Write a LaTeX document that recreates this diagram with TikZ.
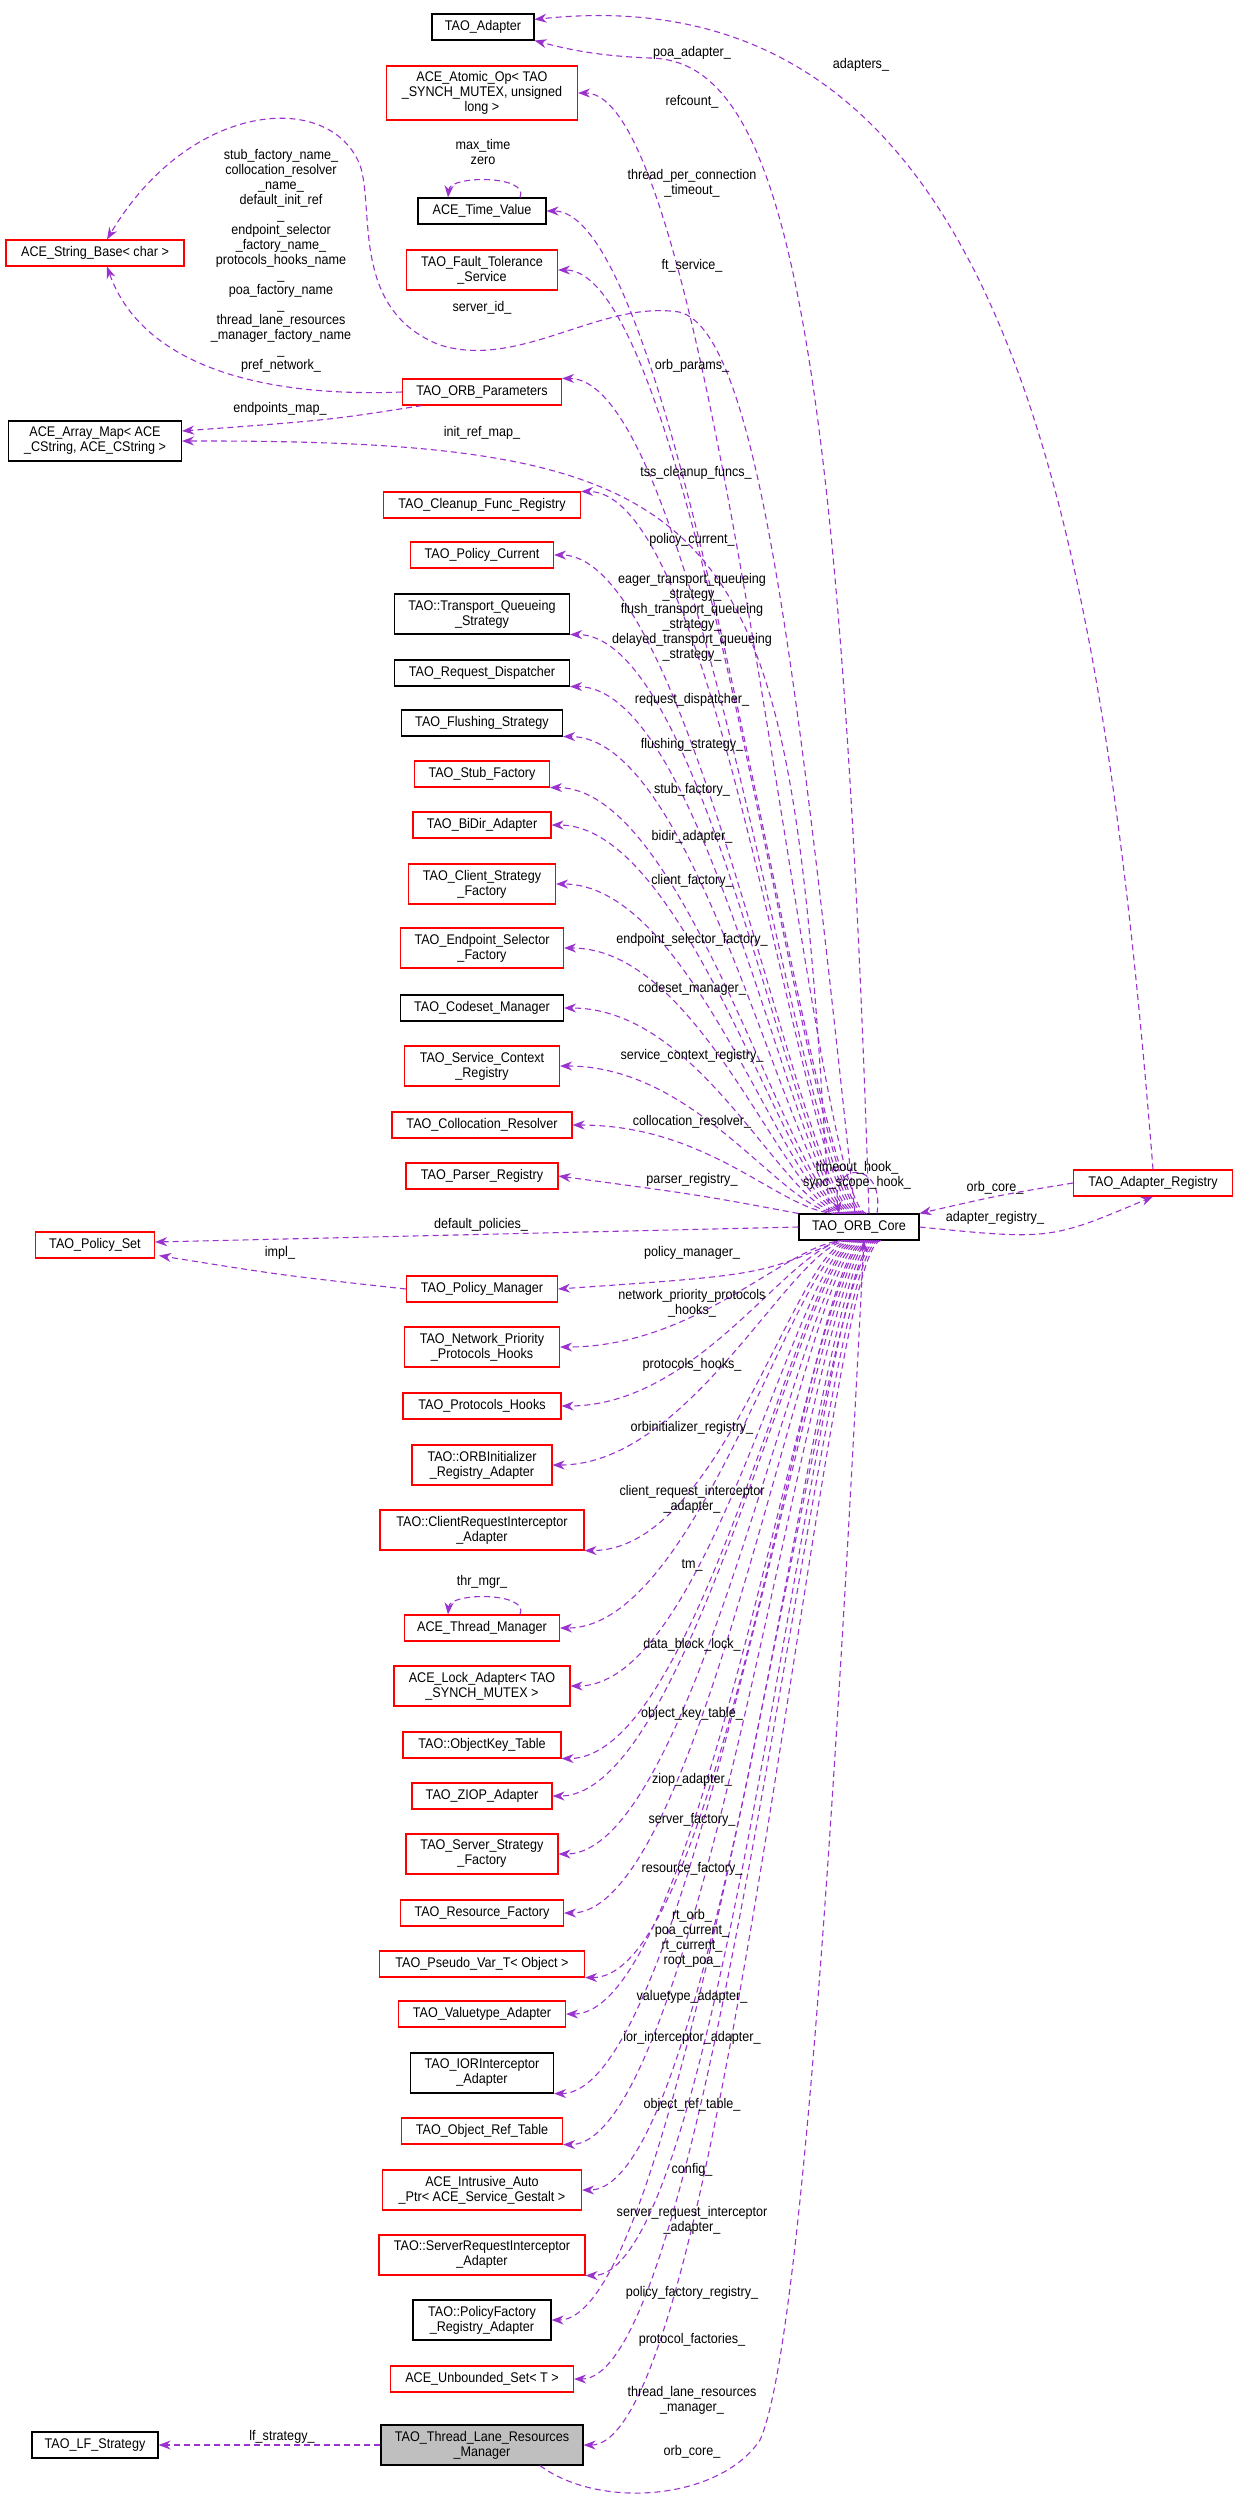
\documentclass[tikz,border=0pt]{standalone}
\usepackage{fontspec}
\setmainfont{Liberation Sans}[FakeStretch=0.9]
\usetikzlibrary{calc,arrows.meta}
\newcommand\lbl{\fontsize{14}{15}\selectfont}
\definecolor{edgec}{HTML}{9A32CD}
\begin{document}
\begin{tikzpicture}[x=1pt,y=-1pt,
 box/.style={draw, fill=white, line width=1.1pt, minimum height=26pt, inner sep=2pt, align=center, font=\lbl},
 rbox/.style={box, draw=red},
 bbox/.style={box, draw=black},
 gbox/.style={box, draw=black, fill=black!25},
 e/.style={draw=edgec, line width=1.1pt, dash pattern=on 6pt off 4pt, -{Stealth[length=12pt,width=9pt]}, shorten >=0pt},
 lab/.style={font=\lbl, align=center, inner sep=0pt}]
\useasboundingbox (0,0) rectangle (1232,2501);
% nodes
\node[bbox, minimum width=102] (adapter) at (483,27) {TAO\_Adapter};
\node[rbox, minimum width=191, minimum height=54] (atomic) at (482,93) {ACE\_Atomic\_Op< TAO\\\_SYNCH\_MUTEX, unsigned\\long >};
\node[bbox, minimum width=128] (timev) at (482,211) {ACE\_Time\_Value};
\node[rbox, minimum width=151, minimum height=40] (ft) at (482,270) {TAO\_Fault\_Tolerance\\\_Service};
\node[rbox, minimum width=178] (sb) at (95,253) {ACE\_String\_Base< char >};
\node[rbox, minimum width=159] (params) at (482,392) {TAO\_ORB\_Parameters};
\node[bbox, minimum width=173, minimum height=40] (amap) at (95,441) {ACE\_Array\_Map< ACE\\\_CString, ACE\_CString >};
\node[rbox, minimum width=197] (cleanup) at (482,505) {TAO\_Cleanup\_Func\_Registry};
\node[rbox, minimum width=143] (pcur) at (482,555) {TAO\_Policy\_Current};
\node[bbox, minimum width=175, minimum height=40] (tqs) at (482,614) {TAO::Transport\_Queueing\\\_Strategy};
\node[bbox, minimum width=175] (rdisp) at (482,673) {TAO\_Request\_Dispatcher};
\node[bbox, minimum width=161] (flush) at (482,723) {TAO\_Flushing\_Strategy};
\node[rbox, minimum width=135] (stub) at (482,774) {TAO\_Stub\_Factory};
\node[rbox, minimum width=138] (bidir) at (482,825) {TAO\_BiDir\_Adapter};
\node[rbox, minimum width=147, minimum height=40] (csf) at (482,884) {TAO\_Client\_Strategy\\\_Factory};
\node[rbox, minimum width=163, minimum height=40] (esf) at (482,948) {TAO\_Endpoint\_Selector\\\_Factory};
\node[bbox, minimum width=163] (codeset) at (482,1008) {TAO\_Codeset\_Manager};
\node[rbox, minimum width=155, minimum height=40] (scr) at (482,1066) {TAO\_Service\_Context\\\_Registry};
\node[rbox, minimum width=180] (coll) at (482,1125) {TAO\_Collocation\_Resolver};
\node[rbox, minimum width=152] (parser) at (482,1176) {TAO\_Parser\_Registry};
\node[bbox, minimum width=120] (core) at (859,1227) {TAO\_ORB\_Core};
\node[rbox, minimum width=159] (areg) at (1153,1183) {TAO\_Adapter\_Registry};
\node[rbox, minimum width=119] (pset) at (95,1245) {TAO\_Policy\_Set};
\node[rbox, minimum width=151] (pman) at (482,1289) {TAO\_Policy\_Manager};
\node[rbox, minimum width=155, minimum height=40] (npph) at (482,1347) {TAO\_Network\_Priority\\\_Protocols\_Hooks};
\node[rbox, minimum width=158] (phooks) at (482,1406) {TAO\_Protocols\_Hooks};
\node[rbox, minimum width=140, minimum height=40] (orbi) at (482,1465) {TAO::ORBInitializer\\\_Registry\_Adapter};
\node[rbox, minimum width=204, minimum height=40] (cria) at (482,1530) {TAO::ClientRequestInterceptor\\\_Adapter};
\node[rbox, minimum width=155] (thrm) at (482,1628) {ACE\_Thread\_Manager};
\node[rbox, minimum width=176, minimum height=40] (lock) at (482,1686) {ACE\_Lock\_Adapter< TAO\\\_SYNCH\_MUTEX >};
\node[rbox, minimum width=158] (okt) at (482,1745) {TAO::ObjectKey\_Table};
\node[rbox, minimum width=140] (ziop) at (482,1796) {TAO\_ZIOP\_Adapter};
\node[rbox, minimum width=152, minimum height=40] (ssf) at (482,1854) {TAO\_Server\_Strategy\\\_Factory};
\node[rbox, minimum width=163] (resf) at (482,1913) {TAO\_Resource\_Factory};
\node[rbox, minimum width=205] (pvar) at (482,1964) {TAO\_Pseudo\_Var\_T< Object >};
\node[rbox, minimum width=167] (vta) at (482,2014) {TAO\_Valuetype\_Adapter};
\node[bbox, minimum width=143, minimum height=40] (iora) at (482,2073) {TAO\_IORInterceptor\\\_Adapter};
\node[rbox, minimum width=161] (ort) at (482,2131) {TAO\_Object\_Ref\_Table};
\node[rbox, minimum width=199, minimum height=40] (iap) at (482,2190) {ACE\_Intrusive\_Auto\\\_Ptr< ACE\_Service\_Gestalt >};
\node[rbox, minimum width=206, minimum height=40] (sria) at (482,2255) {TAO::ServerRequestInterceptor\\\_Adapter};
\node[bbox, minimum width=138, minimum height=40] (pfra) at (482,2320) {TAO::PolicyFactory\\\_Registry\_Adapter};
\node[rbox, minimum width=183] (uset) at (482,2379) {ACE\_Unbounded\_Set< T >};
\node[gbox, minimum width=202, minimum height=40] (tlrm) at (482,2445) {TAO\_Thread\_Lane\_Resources\\\_Manager};
\node[bbox, minimum width=126] (lf) at (95,2445) {TAO\_LF\_Strategy};
% generic edges
\newcommand\upedge[2]{\draw[e] ($(core.north)+(#2,0)$) .. controls ($($(core.north)+(#2-55,0)$)!0.95!($(core.north)+(#2-55,0)$ |- #1)$) and ($(#1)+(140,0)$) .. (#1);}
\newcommand\dnedge[2]{\draw[e] ($(core.south)+(#2,0)$) .. controls ($($(core.south)+(#2-55,0)$)!0.95!($(core.south)+(#2-55,0)$ |- #1)$) and ($(#1)+(140,0)$) .. (#1);}
\upedge{atomic.east}{8}
\upedge{timev.east}{6}
\upedge{ft.east}{4}
\upedge{params.north east}{2}
\upedge{cleanup.north east}{0}
\upedge{pcur.east}{-2}
\upedge{tqs.south east}{-4}
\upedge{rdisp.south east}{-6}
\upedge{flush.south east}{-8}
\upedge{stub.south east}{-10}
\upedge{bidir.east}{-12}
\upedge{csf.east}{-14}
\upedge{esf.east}{-16}
\upedge{codeset.east}{-18}
\upedge{scr.east}{-20}
\upedge{coll.east}{-22}
\draw[e] (core.north west) .. controls (700,1195) .. (parser.east);
\dnedge{npph.east}{-14}
\dnedge{phooks.east}{-12}
\dnedge{orbi.east}{-10}
\dnedge{cria.south east}{-8}
\dnedge{thrm.east}{-6}
\dnedge{lock.east}{-4}
\dnedge{okt.south east}{-2}
\dnedge{ziop.east}{0}
\dnedge{ssf.east}{2}
\dnedge{resf.east}{4}
\dnedge{pvar.south east}{6}
\dnedge{vta.east}{8}
\dnedge{iora.south east}{10}
\dnedge{ort.south east}{12}
\dnedge{iap.east}{14}
\dnedge{sria.south east}{16}
\dnedge{pfra.east}{18}
\dnedge{uset.east}{20}
\dnedge{tlrm.east}{22}
\draw[e] ($(core.south)+(-20,0)$) .. controls (760,1275) .. (pman.east);
% special edges
\draw[e] ($(core.north)+(10,0)$) .. controls (840,300) and (780,60) .. (650,58) .. controls (600,56) and (570,50) .. (adapter.south east);
\draw[e] (areg.north) .. controls (1100,500) and (1000,-30) .. ($(adapter.north east)+(0,6)$);
\draw[e] (core.east) .. controls (1050,1240) .. (areg.south);
\draw[e] (areg.west) .. controls (1000,1195) .. (core.north east);
\draw[e] ($(core.north)+(18,0)$) .. controls (885,1160) and (830,1160) .. ($(core.north)+(-20,0)$);
\draw[e] ($(timev.north)+(38,0)$) .. controls (530,175) and (450,175) .. ($(timev.north)+(-34,0)$);
\draw[e] ($(thrm.north)+(38,0)$) .. controls (530,1592) and (450,1592) .. ($(thrm.north)+(-34,0)$);
\draw[e] ($(core.north)+(-4,0)$) .. controls (800,700) and (760,330) .. (679,312) .. controls (600,300) and (520,370) .. (440,345) .. controls (350,310) and (375,210) .. (360,165) .. controls (330,90) and (190,100) .. ($(sb.north)+(12,0)$);
\draw[e] (params.west) .. controls (250,398) and (140,360) .. ($(sb.south)+(12,0)$);
\draw[e] ($(params.south west)+(20,0)$) .. controls (330,420) .. ($(amap.east)+(0,-10)$);
\draw[e] ($(core.north)+(-30,0)$) .. controls (790,520) and (760,440) .. (182,441);
\draw[e] (core.west) -- ($(pset.east)+(0,-3)$);
\draw[e] (pman.west) .. controls (280,1275) .. ($(pset.south east)+(4,-3)$);
\draw[e] (tlrm.west) -- (lf.east);
\draw[e] ($(tlrm.south)+(58,0)$) .. controls (600,2510) and (720,2500) .. (760,2440) .. controls (810,2330) and (850,1500) .. ($(core.south)+(5,0)$);
% labels
\node[lab] at (692,53) {poa\_adapter\_};
\node[lab] at (861,65) {adapters\_};
\node[lab] at (692,102) {refcount\_};
\node[lab] at (483,152) {max\_time\\zero};
\node[lab] at (692,183) {thread\_per\_connection\\\_timeout\_};
\node[lab] at (692,266) {ft\_service\_};
\node[lab] at (281,261) {stub\_factory\_name\_\\collocation\_resolver\\\_name\_\\default\_init\_ref\\\_\\endpoint\_selector\\\_factory\_name\_\\protocols\_hooks\_name\\\_\\poa\_factory\_name\\\_\\thread\_lane\_resources\\\_manager\_factory\_name\\\_\\pref\_network\_};
\node[lab] at (482,308) {server\_id\_};
\node[lab] at (692,366) {orb\_params\_};
\node[lab] at (280,409) {endpoints\_map\_};
\node[lab] at (482,433) {init\_ref\_map\_};
\node[lab] at (696,473) {tss\_cleanup\_funcs\_};
\node[lab] at (692,540) {policy\_current\_};
\node[lab] at (692,617) {eager\_transport\_queueing\\\_strategy\_\\flush\_transport\_queueing\\\_strategy\_\\delayed\_transport\_queueing\\\_strategy\_};
\node[lab] at (692,700) {request\_dispatcher\_};
\node[lab] at (692,745) {flushing\_strategy\_};
\node[lab] at (692,790) {stub\_factory\_};
\node[lab] at (692,837) {bidir\_adapter\_};
\node[lab] at (692,881) {client\_factory\_};
\node[lab] at (692,940) {endpoint\_selector\_factory\_};
\node[lab] at (692,989) {codeset\_manager\_};
\node[lab] at (692,1056) {service\_context\_registry\_};
\node[lab] at (692,1122) {collocation\_resolver\_};
\node[lab] at (692,1180) {parser\_registry\_};
\node[lab] at (857,1175) {timeout\_hook\_\\sync\_scope\_hook\_};
\node[lab] at (995,1188) {orb\_core\_};
\node[lab] at (995,1218) {adapter\_registry\_};
\node[lab] at (481,1225) {default\_policies\_};
\node[lab] at (280,1253) {impl\_};
\node[lab] at (692,1253) {policy\_manager\_};
\node[lab] at (692,1303) {network\_priority\_protocols\\\_hooks\_};
\node[lab] at (692,1365) {protocols\_hooks\_};
\node[lab] at (692,1428) {orbinitializer\_registry\_};
\node[lab] at (692,1499) {client\_request\_interceptor\\\_adapter\_};
\node[lab] at (692,1565) {tm\_};
\node[lab] at (482,1582) {thr\_mgr\_};
\node[lab] at (692,1645) {data\_block\_lock\_};
\node[lab] at (692,1714) {object\_key\_table\_};
\node[lab] at (692,1780) {ziop\_adapter\_};
\node[lab] at (692,1820) {server\_factory\_};
\node[lab] at (692,1869) {resource\_factory\_};
\node[lab] at (692,1938) {rt\_orb\_\\poa\_current\_\\rt\_current\_\\root\_poa\_};
\node[lab] at (692,1997) {valuetype\_adapter\_};
\node[lab] at (692,2038) {ior\_interceptor\_adapter\_};
\node[lab] at (692,2105) {object\_ref\_table\_};
\node[lab] at (692,2170) {config\_};
\node[lab] at (692,2220) {server\_request\_interceptor\\\_adapter\_};
\node[lab] at (692,2293) {policy\_factory\_registry\_};
\node[lab] at (692,2340) {protocol\_factories\_};
\node[lab] at (692,2400) {thread\_lane\_resources\\\_manager\_};
\node[lab] at (282,2437) {lf\_strategy\_};
\node[lab] at (692,2452) {orb\_core\_};
\end{tikzpicture}
\end{document}
